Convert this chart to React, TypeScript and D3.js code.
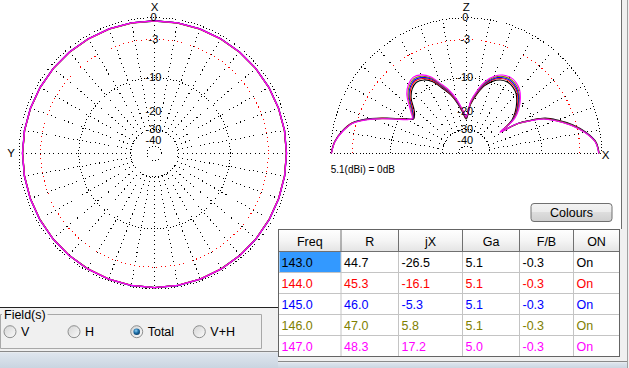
import * as d3 from "d3";

// table values
const freqs = ["143.0", "144.0", "145.0", "146.0", "147.0"];
const resR = ["44.7", "45.3", "46.0", "47.0", "48.3"];
const resX = ["-26.5", "-16.1", "-5.3", "5.8", "17.2"];
const gain = ["5.1", "5.1", "5.1", "5.1", "5.0"];
const fb = ["-0.3", "-0.3", "-0.3", "-0.3", "-0.3"];
const onState = ["On", "On", "On", "On", "On"];
const headers = ["Freq", "R", "jX", "Ga", "F/B", "ON"];
const colors = ["#000000", "#ff0000", "#0000ff", "#808000", "#ff00ff"];

// elevation cut, angle from +X horizon (deg) and dB rel. 5.1 dBi
const elevAngles = [0, 5, 10, 15, 20, 24, 27, 30, 32, 34, 36, 40, 45, 50, 55, 60, 65, 70, 75, 80, 85, 90, 95, 100, 105, 110, 115, 120, 125, 130, 135, 140, 143, 147, 150, 155, 160, 165, 170, 175, 180];
const elev143 = [-0.33, -0.68, -1.88, -3.55, -5.72, -7.72, -10.6, -13.9, -20.0, -17.4, -15.0, -12.9, -11.0, -9.55, -8.82, -8.56, -8.86, -9.8, -11.4, -14.1, -17.5, -23.6, -20.4, -16.8, -13.8, -11.6, -9.25, -8.06, -7.65, -8.2, -9.5, -11.8, -12.7, -13.2, -11.6, -8.4, -4.95, -2.38, -1.22, -0.44, -0.06];
const elev144 = [-0.35, -0.71, -1.94, -3.67, -5.89, -7.9, -10.8, -14.05, -20.4, -17.0, -14.6, -12.5, -10.6, -9.2, -8.47, -8.22, -8.52, -9.44, -11.05, -13.75, -17.1, -23.0, -20.0, -16.4, -13.4, -11.2, -8.9, -7.72, -7.31, -7.86, -9.13, -11.3, -12.3, -13.1, -11.8, -8.56, -5.07, -2.43, -1.25, -0.45, -0.07];
const elev145 = [-0.36, -0.73, -1.97, -3.72, -5.95, -7.98, -10.9, -14.1, -20.6, -16.8, -14.4, -12.25, -10.35, -8.95, -8.22, -7.97, -8.27, -9.18, -10.8, -13.5, -16.8, -22.7, -19.7, -16.1, -13.15, -10.95, -8.65, -7.47, -7.06, -7.6, -8.85, -11.0, -12.1, -13.0, -11.85, -8.62, -5.12, -2.46, -1.27, -0.46, -0.08];
const elev146 = [-0.37, -0.75, -2.0, -3.76, -6.0, -8.05, -11.0, -14.2, -20.8, -16.6, -14.2, -12.0, -10.1, -8.7, -7.97, -7.72, -8.02, -8.92, -10.55, -13.25, -16.6, -22.5, -19.5, -15.85, -12.9, -10.7, -8.4, -7.22, -6.81, -7.35, -8.55, -10.7, -11.8, -12.9, -11.9, -8.68, -5.17, -2.49, -1.29, -0.47, -0.09];
const elev147 = [-0.38, -0.77, -2.04, -3.82, -6.08, -8.12, -11.1, -14.3, -21.0, -16.4, -13.9, -11.7, -9.8, -8.4, -7.67, -7.42, -7.72, -8.62, -10.25, -12.95, -16.3, -22.3, -19.2, -15.55, -12.6, -10.4, -8.1, -6.92, -6.51, -7.05, -8.2, -10.3, -11.5, -12.8, -12.0, -8.76, -5.25, -2.53, -1.31, -0.48, -0.1];

// horizontal cut, azimuth from front (X) 0..180, symmetric about X
const azAngles = [0, 10, 20, 30, 40, 50, 60, 70, 80, 90, 100, 110, 120, 130, 140, 150, 160, 170, 180];
const az143 = [-0.37, -0.38, -0.39, -0.41, -0.42, -0.44, -0.45, -0.46, -0.46, -0.46, -0.45, -0.43, -0.4, -0.36, -0.31, -0.26, -0.21, -0.18, -0.16];
const az144 = [-0.4, -0.4, -0.41, -0.42, -0.43, -0.44, -0.45, -0.45, -0.45, -0.45, -0.44, -0.42, -0.39, -0.35, -0.3, -0.25, -0.2, -0.17, -0.15];
const az145 = [-0.41, -0.4, -0.4, -0.41, -0.42, -0.43, -0.44, -0.44, -0.44, -0.44, -0.43, -0.41, -0.38, -0.34, -0.29, -0.24, -0.19, -0.16, -0.14];
const az146 = [-0.42, -0.42, -0.42, -0.43, -0.44, -0.45, -0.46, -0.46, -0.46, -0.46, -0.45, -0.43, -0.4, -0.36, -0.31, -0.26, -0.21, -0.18, -0.16];
const az147 = [-0.4, -0.4, -0.41, -0.42, -0.43, -0.44, -0.45, -0.45, -0.45, -0.45, -0.44, -0.42, -0.39, -0.35, -0.3, -0.25, -0.2, -0.17, -0.15];

const elevSeries = [elev143, elev144, elev145, elev146, elev147];
const azSeries = [az143, az144, az145, az146, az147];

const ringDb = [0, -10, -30, -50];
const redRingDb = -3;
const labelDb = [0, -3, -10, -20, -30, -40];
const fields = ["V", "H", "Total", "V+H"];
const selectedField = "Total";

const W = 629;
const H = 368;
const R = 135.5;
const hc = { x: 154.5, y: 153.3 };
const vc = { x: 466.2, y: 153.3 };
const font = "'Liberation Sans', Arial, sans-serif";

// ARRL style log scale: 0.89 per 2 dB -> power ratio ^ 0.253
const rScale = d3.scalePow().exponent(0.25304).domain([0, 1]).range([0, R]);
const rad = (db: number) => rScale(Math.pow(10, db / 10));
const toRad = Math.PI / 180;

const elevLine = d3
  .lineRadial<number>()
  .angle((d, i) => (90 - elevAngles[i]) * toRad)
  .radius((d) => rad(d))
  .curve(d3.curveCatmullRom.alpha(0.5));

function azPath(vals: number[]) {
  const ang = azAngles.concat(azAngles.slice(1, -1).reverse().map((a) => 360 - a));
  const v = vals.concat(vals.slice(1, -1).reverse());
  const line = d3
    .lineRadial<number>()
    .angle((d, i) => ang[i] * toRad)
    .radius((d) => rad(d))
    .curve(d3.curveLinearClosed);
  return line(v) || "";
}

function semi(r: number) {
  const p = d3.path();
  p.moveTo(-r, 0);
  p.arc(0, 0, r, Math.PI, 2 * Math.PI);
  return p.toString();
}

function Labels() {
  return (
    <g fontFamily={font} fontSize={11} textAnchor="middle">
      {labelDb.map((d) => (
        <text key={d} x={-1} y={-rad(d) - 0.5} dominantBaseline="central">
          {d === 0 ? "0" : String(d)}
        </text>
      ))}
    </g>
  );
}

const dotted = { strokeWidth: 1, shapeRendering: "crispEdges" as const };

function HorizPlot() {
  const spokes = d3.range(0, 360, 10);
  return (
    <g transform={`translate(${hc.x},${hc.y})`}>
      {spokes.map((a) => (
        <line key={a} x1={rad(-30) * Math.cos(a * toRad)} y1={rad(-30) * Math.sin(a * toRad)}
          x2={R * Math.cos(a * toRad)} y2={R * Math.sin(a * toRad)}
          stroke="#000" strokeDasharray="1 3.5" {...dotted} />
      ))}
      {ringDb.map((d) => (
        <circle key={d} r={rad(d)} fill="none" stroke="#000" strokeDasharray="1 2.2" {...dotted} />
      ))}
      <circle r={rad(redRingDb)} fill="none" stroke="#ff0000" strokeDasharray="1 3.5" {...dotted} />
      {azSeries.map((s, i) => (
        <path key={i} d={azPath(s)} fill="none" stroke={colors[i]} strokeWidth={1.3} />
      ))}
      <Labels />
      <text x={0} y={-146.5} fontFamily={font} fontSize={11.5} textAnchor="middle" dominantBaseline="central">X</text>
      <text x={-143.5} y={0} fontFamily={font} fontSize={11.5} textAnchor="middle" dominantBaseline="central">Y</text>
    </g>
  );
}

function VertPlot() {
  const spokes = d3.range(10, 180, 10);
  return (
    <g transform={`translate(${vc.x},${vc.y})`}>
      {spokes.map((a) => (
        <line key={a} x1={rad(-30) * Math.cos(a * toRad)} y1={-rad(-30) * Math.sin(a * toRad)}
          x2={R * Math.cos(a * toRad)} y2={-R * Math.sin(a * toRad)}
          stroke="#000" strokeDasharray="1 3.5" {...dotted} />
      ))}
      <line x1={-R} x2={R} y1={0.5} y2={0.5} stroke="#000" strokeDasharray="1 2.2" {...dotted} />
      {ringDb.map((d) => (
        <path key={d} d={semi(rad(d))} fill="none" stroke="#000" strokeDasharray="1 2.2" {...dotted} />
      ))}
      <path d={semi(rad(redRingDb))} fill="none" stroke="#ff0000" strokeDasharray="1 3.5" {...dotted} />
      {elevSeries.map((s, i) => (
        <path key={i} d={elevLine(s) || ""} fill="none" stroke={colors[i]} strokeWidth={1.1} />
      ))}
      <Labels />
      <text x={0} y={-146.5} fontFamily={font} fontSize={11.5} textAnchor="middle" dominantBaseline="central">Z</text>
      <text x={139.5} y={2} fontFamily={font} fontSize={11.5} textAnchor="middle" dominantBaseline="central">X</text>
      <text x={-R} y={20} fontFamily={font} fontSize={10}>5.1(dBi) = 0dB</text>
    </g>
  );
}

function Table() {
  const colX = [278.5, 341, 398.5, 462.5, 519.5, 573.5, 619.5];
  const top = 229.5;
  const headH = 22;
  const rowH = 21;
  const cols = [freqs, resR, resX, gain, fb, onState];
  const rowY = d3.range(freqs.length + 1).map((i) => top + headH + i * rowH);
  return (
    <g fontFamily={font} fontSize={12.5}>
      <rect x={colX[0]} y={top} width={colX[6] - colX[0]} height={rowY[5] - top} fill="#fff" />
      <rect x={colX[0]} y={top} width={colX[6] - colX[0]} height={headH} fill="url(#hdr)" />
      <rect x={colX[0] + 1} y={rowY[0] + 0.5} width={colX[1] - colX[0] - 1} height={rowH - 1} fill="#3399ff" />
      {rowY.slice(1, -1).map((y) => (
        <line key={y} x1={colX[0]} x2={colX[6]} y1={y} y2={y} stroke="#c4c4c4" />
      ))}
      {colX.slice(1, -1).map((x) => (
        <g key={x}>
          <line x1={x} x2={x} y1={top} y2={rowY[0]} stroke="#707070" />
          <line x1={x} x2={x} y1={rowY[0]} y2={rowY[5]} stroke="#c4c4c4" />
        </g>
      ))}
      <line x1={colX[0]} x2={colX[6]} y1={rowY[0]} y2={rowY[0]} stroke="#707070" />
      <rect x={colX[0]} y={top} width={colX[6] - colX[0]} height={rowY[5] - top} fill="none" stroke="#646464" />
      {headers.map((h, j) => (
        <text key={h} x={(colX[j] + colX[j + 1]) / 2} y={top + headH / 2 + 1} textAnchor="middle" dominantBaseline="central" fill="#000">{h}</text>
      ))}
      {cols.map((col, j) =>
        col.map((v, i) => (
          <text key={j + "-" + i} x={colX[j] + 3} y={rowY[i] + rowH / 2 + 0.5} dominantBaseline="central" fill={colors[i]}>{v}</text>
        ))
      )}
    </g>
  );
}

function FieldBox() {
  const radioX = [10, 74, 136.7, 199.3];
  const y = 331.7;
  return (
    <g fontFamily={font} fontSize={12.5}>
      <path d="M 47.5 314.5 H 261.5 V 348.5 H 0.5 V 314.5 H 2" fill="none" stroke="#a8a8a8" />
      <text x={4} y={314.5} dominantBaseline="central">Field(s)</text>
      {fields.map((f, i) => (
        <g key={f}>
          <circle cx={radioX[i]} cy={y} r={6} fill="url(#radio)" stroke="#8e8f8f" />
          {f === selectedField && <circle cx={radioX[i]} cy={y} r={3.3} fill="url(#dot)" />}
          <text x={radioX[i] + 11} y={y + 0.5} dominantBaseline="central">{f}</text>
        </g>
      ))}
    </g>
  );
}

export default function App() {
  return (
    <svg width={W} height={H} style={{ position: "absolute", left: 0, top: 0 }}>
      <defs>
        <linearGradient id="hdr" x1="0" y1="0" x2="0" y2="1">
          <stop offset="0" stopColor="#ffffff" />
          <stop offset="0.5" stopColor="#f5f5f5" />
          <stop offset="1" stopColor="#e4e4e4" />
        </linearGradient>
        <linearGradient id="btn" x1="0" y1="0" x2="0" y2="1">
          <stop offset="0" stopColor="#f3f3f3" />
          <stop offset="0.5" stopColor="#ebebeb" />
          <stop offset="0.5" stopColor="#dddddd" />
          <stop offset="1" stopColor="#cfcfcf" />
        </linearGradient>
        <linearGradient id="radio" x1="0" y1="0" x2="1" y2="1">
          <stop offset="0" stopColor="#d4d4d4" />
          <stop offset="1" stopColor="#fbfbfb" />
        </linearGradient>
        <radialGradient id="dot" cx="0.4" cy="0.35" r="0.7">
          <stop offset="0" stopColor="#8fd0f5" />
          <stop offset="0.5" stopColor="#1d6fa8" />
          <stop offset="1" stopColor="#0b3b63" />
        </radialGradient>
        <linearGradient id="frame" x1="0" y1="0" x2="0" y2="1">
          <stop offset="0" stopColor="#dfe6ee" />
          <stop offset="1" stopColor="#c9d4e0" />
        </linearGradient>
      </defs>
      <rect width={W} height={H} fill="#f0f0f0" />
      <rect x={0} y={0} width={621.5} height={307.5} fill="#fff" />
      <rect x={278} y={229} width={344} height={80} fill="#f0f0f0" />
      <line x1={621.5} x2={621.5} y1={0} y2={229} stroke="#6d6d6d" />
      <line x1={627.5} x2={627.5} y1={0} y2={368} stroke="#a0a0a0" />
      <line x1={0} x2={278} y1={307.5} y2={307.5} stroke="#222" />
      <HorizPlot />
      <VertPlot />
      <rect x={531} y={203.5} width={81} height={18} rx={3} fill="url(#btn)" stroke="#707070" />
      <text x={571.5} y={213} fontFamily={font} fontSize={12.5} textAnchor="middle" dominantBaseline="central">Colours</text>
      <Table />
      <FieldBox />
      <line x1={0} x2={278} y1={351.5} y2={351.5} stroke="#8a8a8a" />
      <rect x={0} y={352.5} width={278} height={16} fill="url(#frame)" />
      <line x1={278} x2={627} y1={361.5} y2={361.5} stroke="#8a8a8a" />
      <rect x={278} y={362.5} width={349} height={6} fill="url(#frame)" />
    </svg>
  );
}
